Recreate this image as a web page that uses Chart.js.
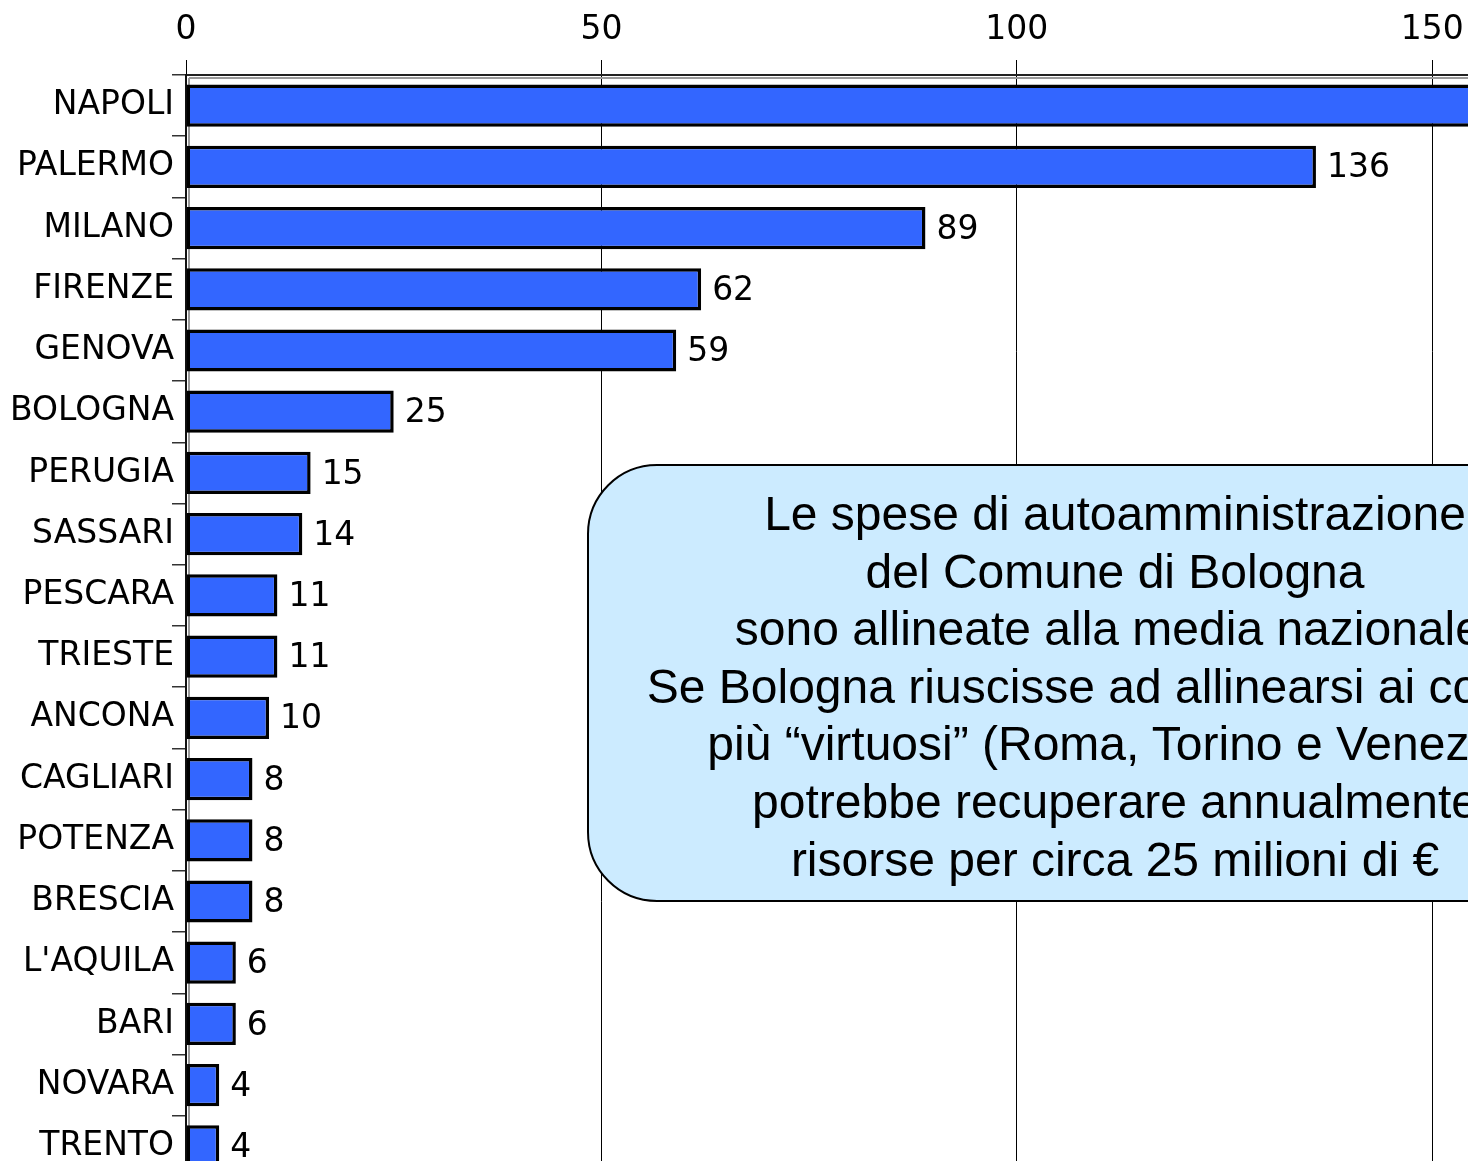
<!DOCTYPE html>
<html>
<head>
<meta charset="utf-8">
<script src="https://cdn.jsdelivr.net/npm/chart.js@4.4.1/dist/chart.umd.min.js"></script>
<style>
    html, body { margin: 0; padding: 0; background: #fff; overflow: hidden; }
    #wrap { position: relative; width: 1468px; height: 1161px; overflow: hidden; }
    #note {
        position: absolute;
        left: 587px; top: 464px;
        width: 1056px; height: 438px;
        box-sizing: border-box;
        border: 2px solid #000;
        border-radius: 70px;
        background: #CCEBFF;
        padding-top: 19px;
        font-family: 'Liberation Sans', Arial, sans-serif;
        font-size: 48px;
        line-height: 57.6px;
        text-align: center;
        white-space: nowrap;
        color: #000;
    }
</style>
</head>
<body>
<div id="wrap">
    <canvas id="chart" width="1468" height="1177"></canvas>
    <div id="note">
        Le spese di autoamministrazione<br>
        del Comune di Bologna<br>
        sono allineate alla media nazionale.<br>
        Se Bologna riuscisse ad allinearsi ai comuni<br>
        più “virtuosi” (Roma, Torino e Venezia)<br>
        potrebbe recuperare annualmente<br>
        risorse per circa 25 milioni di €
    </div>
</div>
<script>
// Dati del grafico
const cities = ['NAPOLI', 'PALERMO', 'MILANO', 'FIRENZE', 'GENOVA', 'BOLOGNA', 'PERUGIA', 'SASSARI',
    'PESCARA', 'TRIESTE', 'ANCONA', 'CAGLIARI', 'POTENZA', 'BRESCIA', "L'AQUILA", 'BARI', 'NOVARA', 'TRENTO'];
const values = [160, 136, 89, 62, 59, 25, 15, 14, 11, 11, 10, 8, 8, 8, 6, 6, 4, 4];
const xTicks = [0, 50, 100, 150];

const FONT = { family: "'DejaVu Sans', sans-serif", size: 33 };

// Etichette dei valori a destra delle barre
const valueLabels = {
    id: 'valueLabels',
    afterDatasetsDraw(chart) {
        const ctx = chart.ctx;
        const meta = chart.getDatasetMeta(0);
        ctx.save();
        ctx.font = `${FONT.size}px ${FONT.family}`;
        ctx.fillStyle = '#000';
        ctx.textAlign = 'left';
        ctx.textBaseline = 'middle';
        meta.data.forEach((bar, i) => {
            ctx.fillText(String(values[i]), bar.x + 11, bar.y + 2);
        });
        ctx.restore();
    }
};

// Doppia linea (cornice grigia) lungo gli assi
const frameLines = {
    id: 'frameLines',
    beforeDatasetsDraw(chart) {
        const { ctx, chartArea: a } = chart;
        ctx.save();
        ctx.strokeStyle = '#9a9a9a';
        ctx.lineWidth = 2;
        ctx.beginPath();
        ctx.moveTo(a.left + 3, a.top + 3);
        ctx.lineTo(a.right, a.top + 3);
        ctx.moveTo(a.left + 3, a.top + 3);
        ctx.lineTo(a.left + 3, a.bottom);
        ctx.stroke();
        ctx.restore();
    }
};

new Chart(document.getElementById('chart'), {
    type: 'bar',
    data: {
        labels: cities,
        datasets: [{
            data: values,
            backgroundColor: '#3366FF',
            borderColor: '#000',
            borderWidth: 3.5,
            borderSkipped: false,
            categoryPercentage: 1,
            barPercentage: 0.69
        }]
    },
    options: {
        indexAxis: 'y',
        responsive: false,
        animation: false,
        layout: { padding: 0 },
        plugins: {
            legend: { display: false },
            tooltip: { enabled: false }
        },
        scales: {
            x: {
                position: 'top',
                min: 0,
                max: 154.3,
                afterBuildTicks: scale => {
                    scale.ticks = xTicks.map(v => ({ value: v }));
                },
                afterFit: scale => {
                    scale.height = 75;
                    scale.paddingLeft = 0;
                    scale.paddingRight = 0;
                },
                ticks: { font: FONT, color: '#000', padding: 10 },
                grid: { color: '#000', lineWidth: 1, tickLength: 15 },
                border: { color: '#222', width: 2 }
            },
            y: {
                afterFit: scale => {
                    scale.width = 186;
                    scale.paddingTop = 0;
                    scale.paddingBottom = 0;
                },
                ticks: { font: FONT, color: '#000', padding: -2 },
                grid: { drawOnChartArea: false, color: '#333', lineWidth: 1.5, tickLength: 14 },
                border: { color: '#111', width: 2 }
            }
        }
    },
    plugins: [frameLines, valueLabels]
});
</script>
</body>
</html>
